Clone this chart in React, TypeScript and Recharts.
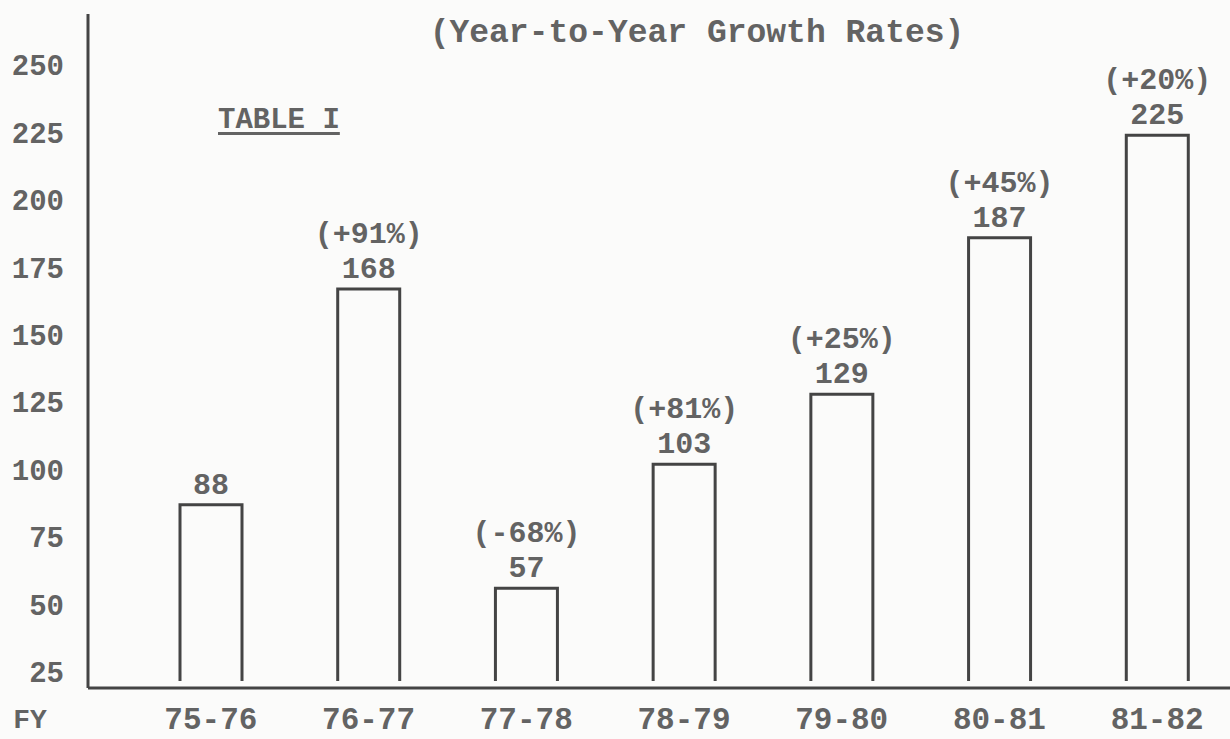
import { BarChart, Bar, XAxis, YAxis, LabelList, Label } from "recharts";

const fiscalYears = ["75-76", "76-77", "77-78", "78-79", "79-80", "80-81", "81-82"];
const totals = [88, 168, 57, 103, 129, 187, 225];
const growthRates = ["", "(+91%)", "(-68%)", "(+81%)", "(+25%)", "(+45%)", "(+20%)"];
const yTicks = [25, 50, 75, 100, 125, 150, 175, 200, 225, 250];

const FONT = "'Liberation Mono', 'DejaVu Sans Mono', monospace";
const INK = "#636363";
const LINE = "#444";

const data = fiscalYears.map((fy, i) => ({
  fy,
  value: totals[i],
  growth: growthRates[i],
}));

// outline bar with no bottom edge, stopping a little short of the axis
function OpenBar(props: any) {
  const { x, y, width, height } = props;
  const bottom = y + height - 7;
  return (
    <path
      d={`M${x},${bottom} L${x},${y} L${x + width},${y} L${x + width},${bottom}`}
      fill="none"
      stroke={LINE}
      strokeWidth={3}
    />
  );
}

function CategoryTick({ x, y, payload }: any) {
  return (
    <text x={x} y={y + 32} textAnchor="middle" dominantBaseline="central" fontFamily={FONT} fontWeight="bold" fontSize={31} fill={INK}>
      {payload.value}
    </text>
  );
}

function ValueTick({ x, y, payload }: any) {
  return (
    <text x={x - 24} y={y} textAnchor="end" dominantBaseline="central" fontFamily={FONT} fontWeight="bold" fontSize={29} fill={INK}>
      {payload.value}
    </text>
  );
}

function TotalLabel({ x, y, width, value }: any) {
  return (
    <text x={x + width / 2} y={y - 19} textAnchor="middle" dominantBaseline="central" fontFamily={FONT} fontWeight="bold" fontSize={30} fill={INK}>
      {value}
    </text>
  );
}

function GrowthLabel({ x, y, width, value }: any) {
  if (!value) return null;
  return (
    <text x={x + width / 2} y={y - 54} textAnchor="middle" dominantBaseline="central" fontFamily={FONT} fontWeight="bold" fontSize={30} fill={INK}>
      {value}
    </text>
  );
}

function FyLabel({ viewBox }: any) {
  return (
    <text x={viewBox.x - 58} y={viewBox.y + 32} textAnchor="middle" dominantBaseline="central" fontFamily={FONT} fontWeight="bold" fontSize={28} fill={INK}>
      FY
    </text>
  );
}

export default function App() {
  return (
    <div
      style={{
        position: "absolute",
        left: 0,
        top: 0,
        width: 1230,
        height: 739,
        overflow: "hidden",
        background: "#fbfbfa",
      }}
    >
      <BarChart width={1240} height={739} data={data} margin={{ top: 14, right: 4, bottom: 0, left: 0 }}>
        <XAxis
          dataKey="fy"
          height={51}
          padding={{ left: 44, right: 0 }}
          axisLine={{ stroke: LINE, strokeWidth: 3 }}
          tickLine={false}
          tickSize={0}
          tickMargin={0}
          interval={0}
          tick={<CategoryTick />}
        >
          <Label content={FyLabel} />
        </XAxis>
        <YAxis
          domain={[20, 270]}
          ticks={yTicks}
          width={88}
          allowDataOverflow
          axisLine={{ stroke: LINE, strokeWidth: 3 }}
          tickLine={false}
          tickSize={0}
          tickMargin={0}
          tick={<ValueTick />}
        />
        <Bar dataKey="value" barSize={62} shape={<OpenBar />} isAnimationActive={false}>
          <LabelList dataKey="value" content={<TotalLabel />} />
          <LabelList dataKey="growth" content={<GrowthLabel />} />
        </Bar>
      </BarChart>
      <div
        style={{
          position: "absolute",
          left: 697,
          top: 33,
          transform: "translate(-50%, -50%)",
          fontFamily: FONT,
          fontWeight: "bold",
          fontSize: 33,
          color: INK,
          whiteSpace: "nowrap",
        }}
      >
        (Year-to-Year Growth Rates)
      </div>
      <div
        style={{
          position: "absolute",
          left: 218,
          top: 104,
          fontFamily: FONT,
          fontWeight: "bold",
          fontSize: 29,
          lineHeight: "34px",
          color: INK,
          textDecoration: "underline",
          textDecorationThickness: 3,
          textUnderlineOffset: 4,
          whiteSpace: "nowrap",
        }}
      >
        TABLE I
      </div>
    </div>
  );
}
